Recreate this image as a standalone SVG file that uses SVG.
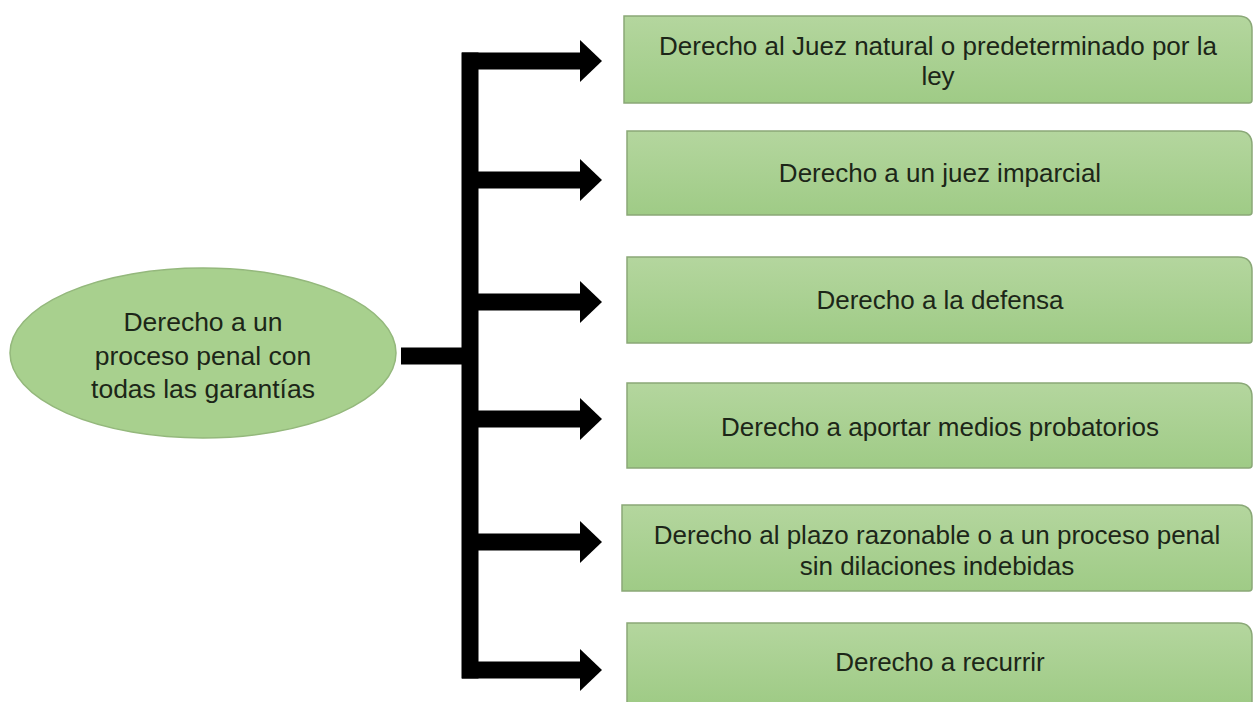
<svg xmlns="http://www.w3.org/2000/svg" width="1253" height="702" viewBox="0 0 1253 702">
<style>
.box{fill:url(#g);stroke:#8aa877;stroke-width:1.5}
.t{font-family:"Liberation Sans",Arial,sans-serif;font-size:26px;fill:#1c2618;text-anchor:middle}
.e{font-size:26.5px}
.c{stroke:#000;stroke-width:17;fill:none}
</style>
<defs>
<linearGradient id="g" x1="0" y1="0" x2="0" y2="1">
<stop offset="0" stop-color="#b4d69e"/>
<stop offset="1" stop-color="#9fcb86"/>
</linearGradient>
<marker id="ah" markerUnits="userSpaceOnUse" markerWidth="24" markerHeight="44" refX="0" refY="21" orient="auto">
<path d="M0,0 L22,21 L0,42 z" fill="#000"/>
</marker>
</defs>
<rect width="1253" height="702" fill="#fff"/>
<g id="connectors">
<line class="c" x1="470" y1="52.5" x2="470" y2="678.5" stroke-width="16"/>
<line class="c" x1="401" y1="356" x2="470" y2="356"/>
<line class="c" x1="462" y1="61" x2="580" y2="61" marker-end="url(#ah)"/>
<line class="c" x1="470" y1="180" x2="580" y2="180" marker-end="url(#ah)"/>
<line class="c" x1="470" y1="302" x2="580" y2="302" marker-end="url(#ah)"/>
<line class="c" x1="470" y1="419" x2="580" y2="419" marker-end="url(#ah)"/>
<line class="c" x1="470" y1="542" x2="580" y2="542" marker-end="url(#ah)"/>
<line class="c" x1="462" y1="670" x2="580" y2="670" marker-end="url(#ah)"/>
</g>
<g id="root">
<ellipse cx="203" cy="353" rx="193" ry="85" fill="#a8d08e" stroke="#94b87c" stroke-width="1.5"/>
<text class="t e" x="203" y="331">Derecho a un</text>
<text class="t e" x="203" y="365">proceso penal con</text>
<text class="t e" x="203" y="398">todas las garantías</text>
</g>
<g id="n1">
<path class="box" d="M624,16 H1238 Q1252,16 1252,30 V100 Q1252,103 1249,103 H624 Z"/>
<text class="t" x="938" y="55">Derecho al Juez natural o predeterminado por la</text>
<text class="t" x="938" y="85">ley</text>
</g>
<g id="n2">
<path class="box" d="M627,131 H1238 Q1252,131 1252,145 V212 Q1252,215 1249,215 H627 Z"/>
<text class="t" x="940" y="182">Derecho a un juez imparcial</text>
</g>
<g id="n3">
<path class="box" d="M627,257 H1238 Q1252,257 1252,271 V340 Q1252,343 1249,343 H627 Z"/>
<text class="t" x="940" y="309">Derecho a la defensa</text>
</g>
<g id="n4">
<path class="box" d="M627,383 H1238 Q1252,383 1252,397 V465 Q1252,468 1249,468 H627 Z"/>
<text class="t" x="940" y="436">Derecho a aportar medios probatorios</text>
</g>
<g id="n5">
<path class="box" d="M622,505 H1238 Q1252,505 1252,519 V588 Q1252,591 1249,591 H622 Z"/>
<text class="t" x="937" y="544">Derecho al plazo razonable o a un proceso penal</text>
<text class="t" x="937" y="575">sin dilaciones indebidas</text>
</g>
<g id="n6">
<path class="box" d="M627,623 H1238 Q1252,623 1252,637 V703 H627 Z"/>
<text class="t" x="940" y="671">Derecho a recurrir</text>
</g>
</svg>
